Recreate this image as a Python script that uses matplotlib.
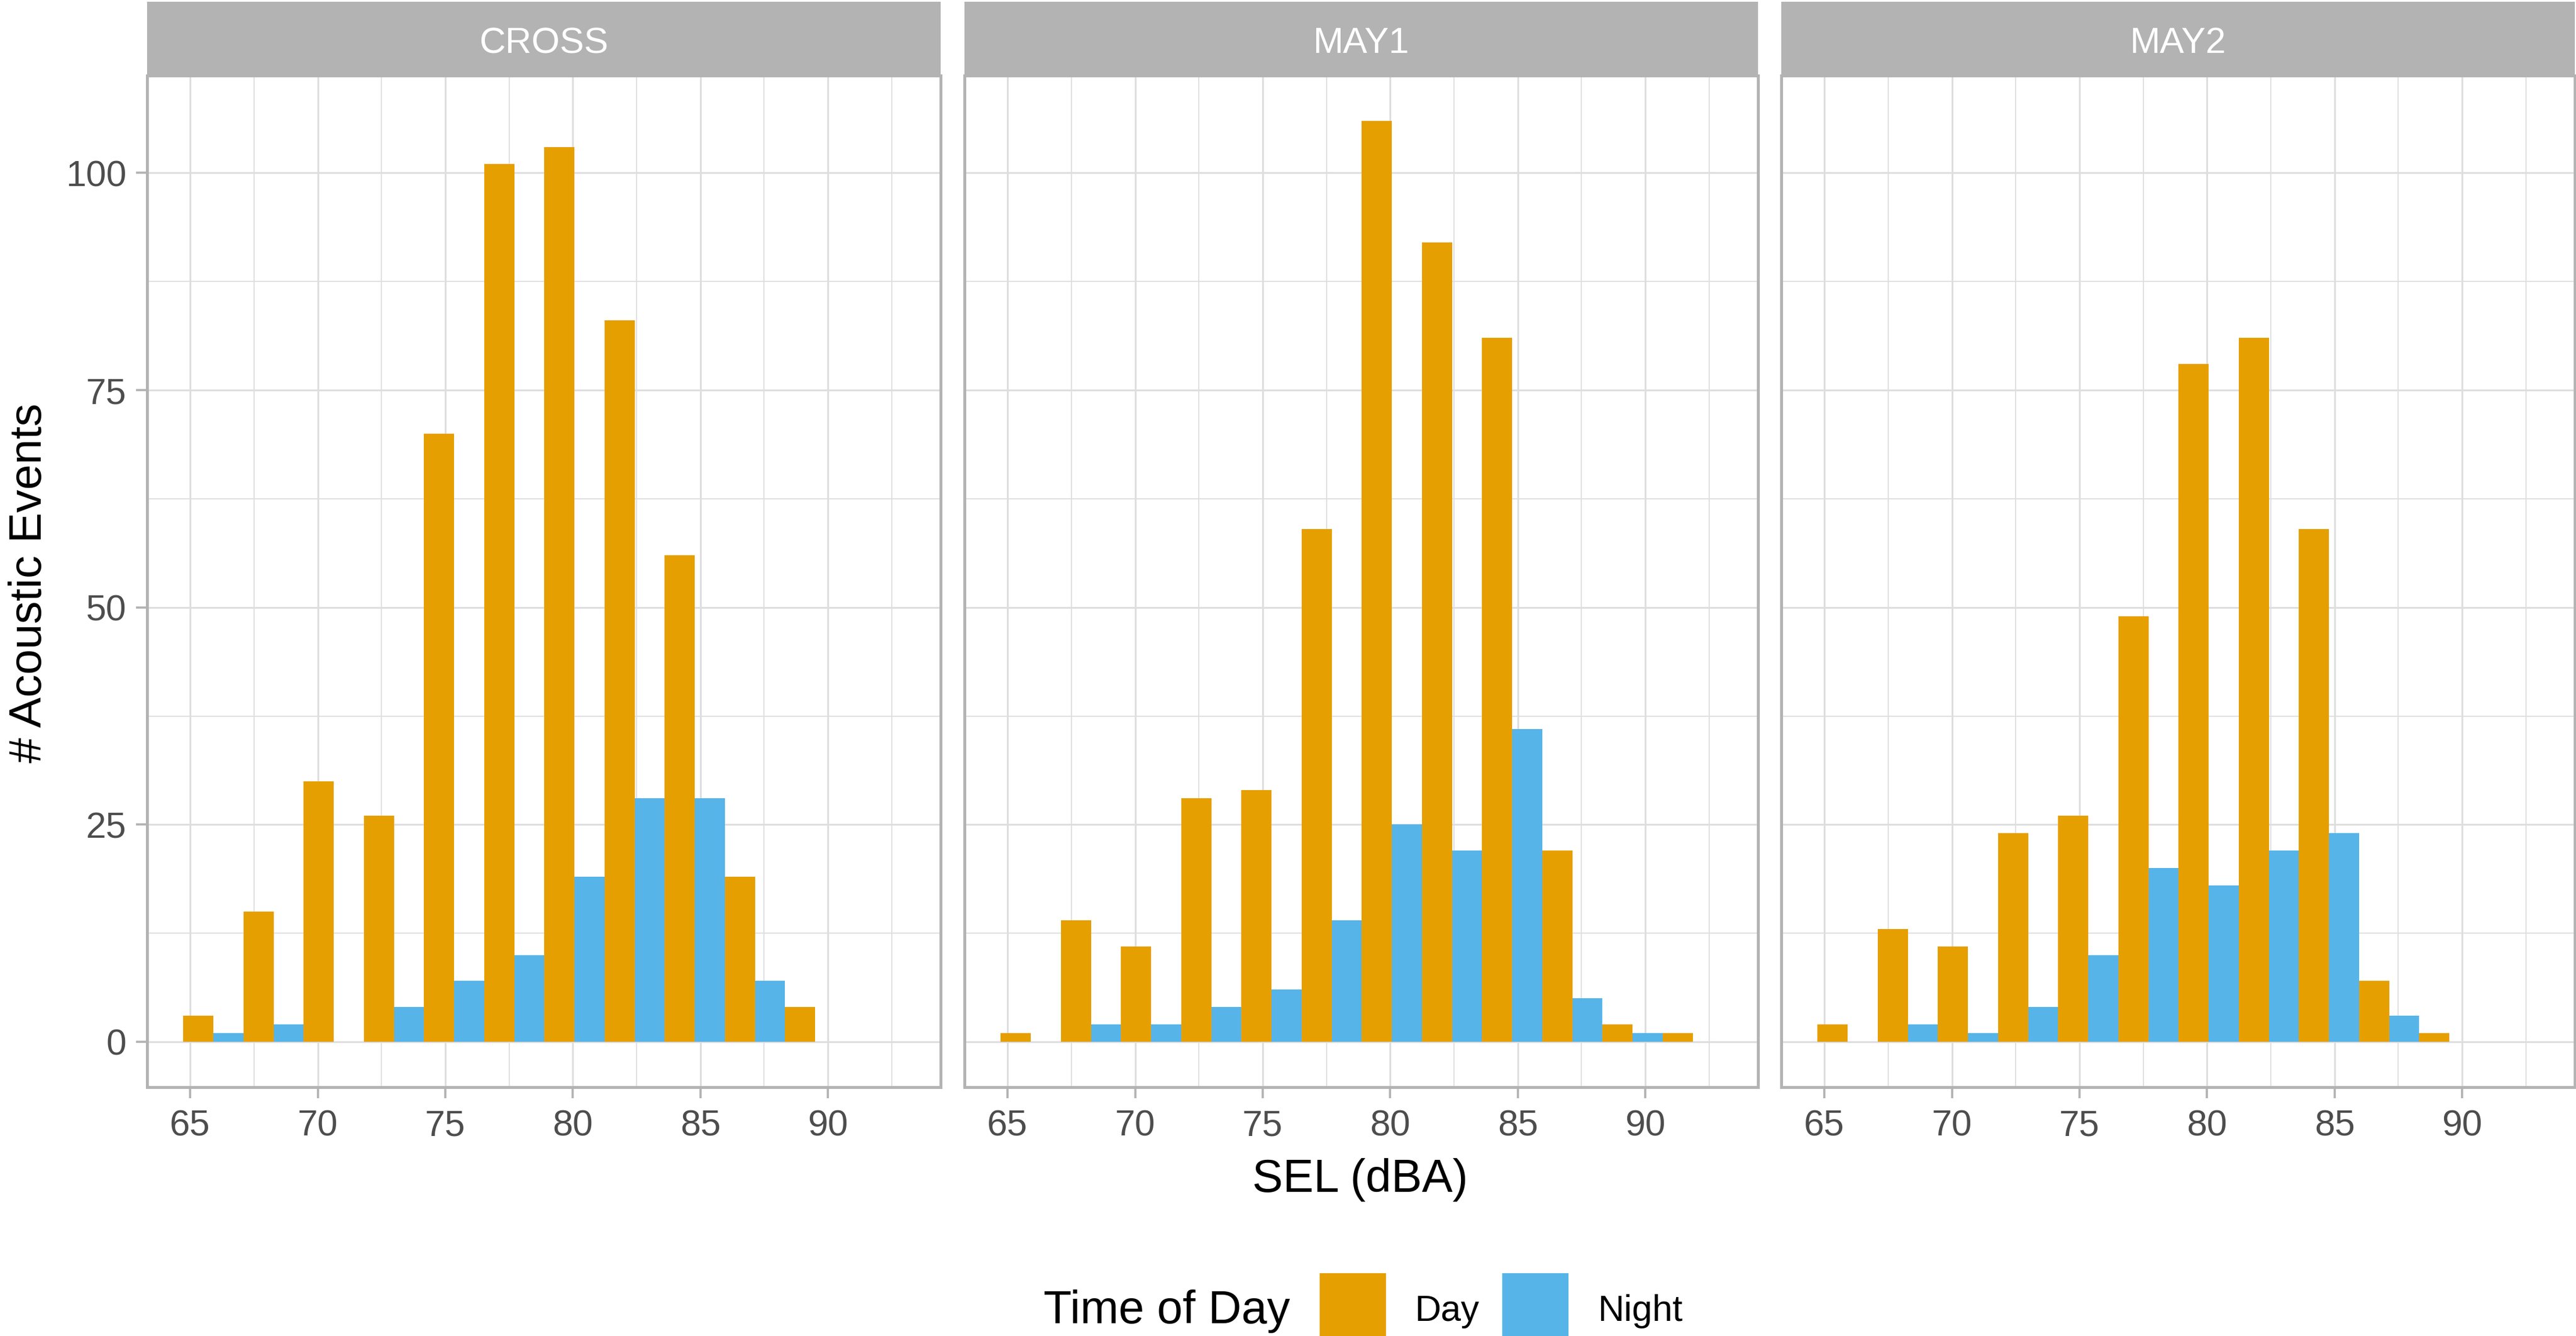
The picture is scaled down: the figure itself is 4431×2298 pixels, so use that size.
import matplotlib
matplotlib.use("Agg")
import matplotlib.pyplot as plt
import numpy as np
from matplotlib.patches import Rectangle

plt.rcParams['font.family'] = ['Liberation Sans', 'DejaVu Sans']

# histogram bins shared by all sites (SEL, dBA)
bin_start = 64.73
bin_width = 2.359
n_bins = 12

sites = ["CROSS", "MAY1", "MAY2"]
day_counts = {
    "CROSS": [3, 15, 30, 26, 70, 101, 103, 83, 56, 19, 4, 0],
    "MAY1":  [1, 14, 11, 28, 29, 59, 106, 92, 81, 22, 2, 1],
    "MAY2":  [2, 13, 11, 24, 26, 49, 78, 81, 59, 7, 1, 0],
}
night_counts = {
    "CROSS": [1, 2, 0, 4, 7, 10, 19, 28, 28, 7, 0, 0],
    "MAY1":  [0, 2, 2, 4, 6, 14, 25, 22, 36, 5, 1, 0],
    "MAY2":  [0, 2, 1, 4, 10, 20, 18, 22, 24, 3, 0, 0],
}
groups = ["Day", "Night"]
colors = {"Day": "#E69F00", "Night": "#56B4E9"}

W, H = 4431, 2298
fig = plt.figure(figsize=(W / 300, H / 300), dpi=300)
fig.patch.set_facecolor("white")

def fx(x):
    return x / W

def fy(y):
    return 1 - y / H

grid_col = "#DEDEDE"
frame_col = "#B3B3B3"
tick_txt = "#4D4D4D"

lefts = [253, 1659, 3064]
pw = 1365
ptop, pbot = 130, 1870
centers = bin_start + bin_width * (np.arange(n_bins) + 0.5)

for i, site in enumerate(sites):
    ax = fig.add_axes([fx(lefts[i]), fy(pbot), pw / W, (pbot - ptop) / H])
    ax.bar(centers - bin_width / 4, day_counts[site], width=bin_width / 2,
           color=colors["Day"], linewidth=0, zorder=3)
    ax.bar(centers + bin_width / 4, night_counts[site], width=bin_width / 2,
           color=colors["Night"], linewidth=0, zorder=3)
    ax.set_xlim(63.31, 94.42)
    ax.set_ylim(-5.22, 111.2)
    ax.set_xticks([65, 70, 75, 80, 85, 90])
    ax.set_xticks([67.5, 72.5, 77.5, 82.5, 87.5, 92.5], minor=True)
    ax.set_yticks([0, 25, 50, 75, 100])
    ax.set_yticks([12.5, 37.5, 62.5, 87.5], minor=True)
    ax.grid(which="major", color=grid_col, lw=0.75, zorder=0)
    ax.grid(which="minor", color=grid_col, lw=0.45, zorder=0)
    ax.set_axisbelow(True)
    for sp in ax.spines.values():
        sp.set_color(frame_col)
        sp.set_linewidth(1.2)
    ax.tick_params(axis="x", which="major", color=frame_col, length=4.5, width=0.9,
                   labelsize=15, labelcolor=tick_txt, pad=4.5)
    ax.tick_params(which="minor", length=0)
    if i == 0:
        ax.tick_params(axis="y", which="major", color=frame_col, length=4.5, width=0.9,
                       labelsize=15, labelcolor=tick_txt, pad=4)
    else:
        ax.tick_params(axis="y", which="major", length=0, labelleft=False)

    # facet strip
    sax = fig.add_axes([fx(lefts[i]), fy(ptop), pw / W, (ptop - 3) / H])
    sax.set_facecolor(frame_col)
    sax.set_xticks([])
    sax.set_yticks([])
    for sp in sax.spines.values():
        sp.set_visible(False)
    fig.text(fx(lefts[i] + pw / 2), fy(91), site, color="white", fontsize=15,
             ha="center", va="baseline")

fig.text(fx(2340), fy(2050), "SEL (dBA)", fontsize=19, ha="center", va="baseline")
fig.text(fx(51), fy(1003), "# Acoustic Events", fontsize=18.8, rotation=90,
         ha="center", va="center")

# legend
fig.text(fx(1795), fy(2276), "Time of Day", fontsize=19, ha="left", va="baseline")
key_x = {"Day": 2270, "Night": 2584}
lab_x = {"Day": 2434, "Night": 2749}
for g in groups:
    fig.patches.append(Rectangle((fx(key_x[g]), fy(2310)), 114 / W, 120 / H,
                                 transform=fig.transFigure, color=colors[g], lw=0))
    fig.text(fx(lab_x[g]), fy(2272), g, fontsize=15, ha="left", va="baseline")

fig.savefig("out.png", dpi=300)
